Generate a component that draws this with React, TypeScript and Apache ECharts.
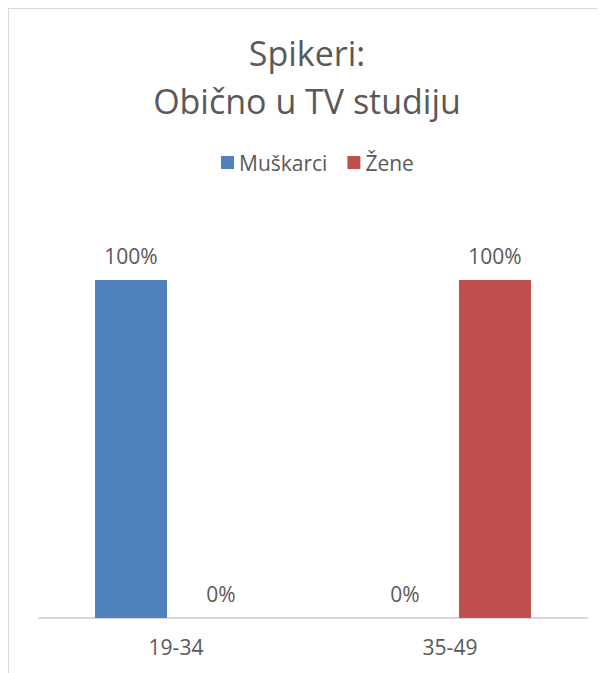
import React, { useEffect, useRef } from "react";
import * as echarts from "echarts";

const titleText = "Spikeri:\nObično u TV studiju";
const categories = ["19-34", "35-49"];
const seriesNames = ["Muškarci", "Žene"];
const menValues = [1, 0];
const womenValues = [0, 1];
const seriesColors = ["#4F81BD", "#C0504D"];

const FONT = "'Open Sans', 'Noto Sans', sans-serif";
const TEXT = "#595959";

export default function App() {
  const ref = useRef<HTMLDivElement>(null);
  useEffect(() => {
    if (!ref.current) return;
    const chart = echarts.init(ref.current, undefined, { renderer: "svg" });
    const pct = (p: any) => Math.round(p.value * 100) + "%";
    const mkSeries = (name: string, data: number[], color: string) => ({
      name,
      type: "bar",
      data,
      barWidth: 72,
      barGap: "25%",
      itemStyle: { color },
      label: {
        show: true,
        position: "top",
        distance: 14,
        formatter: pct,
        fontFamily: FONT,
        fontSize: 21,
        color: TEXT,
      },
    });
    chart.setOption({
      animation: false,
      backgroundColor: "#ffffff",
      title: {
        text: titleText,
        left: "center",
        top: 20,
        padding: 0,
        textStyle: {
          fontFamily: FONT,
          fontSize: 34,
          fontWeight: "normal",
          color: TEXT,
          lineHeight: 48,
        },
      },
      legend: {
        data: seriesNames,
        left: 212,
        top: 143,
        padding: 0,
        itemWidth: 13,
        itemHeight: 13,
        itemGap: 20,
        icon: "rect",
        textStyle: { fontFamily: FONT, fontSize: 21, color: TEXT },
      },
      grid: { left: 30, right: 18, top: 271, bottom: 55 },
      xAxis: {
        type: "category",
        data: categories,
        axisLine: { lineStyle: { color: "#D9D9D9", width: 2 } },
        axisTick: { show: false },
        axisLabel: { fontFamily: FONT, fontSize: 21, color: TEXT, margin: 18 },
      },
      yAxis: {
        type: "value",
        min: 0,
        max: 1,
        show: false,
        splitLine: { show: false },
      },
      series: [
        mkSeries(seriesNames[0], menValues, seriesColors[0]),
        mkSeries(seriesNames[1], womenValues, seriesColors[1]),
      ],
    });
    return () => chart.dispose();
  }, []);
  return (
    <div
      style={{
        width: 597,
        height: 665,
        boxSizing: "border-box",
        borderLeft: "1px solid #D9D9D9",
        borderTop: "1px solid #D9D9D9",
        overflow: "hidden",
      }}
    >
      <div ref={ref} style={{ width: 596, height: 664 }} />
    </div>
  );
}
